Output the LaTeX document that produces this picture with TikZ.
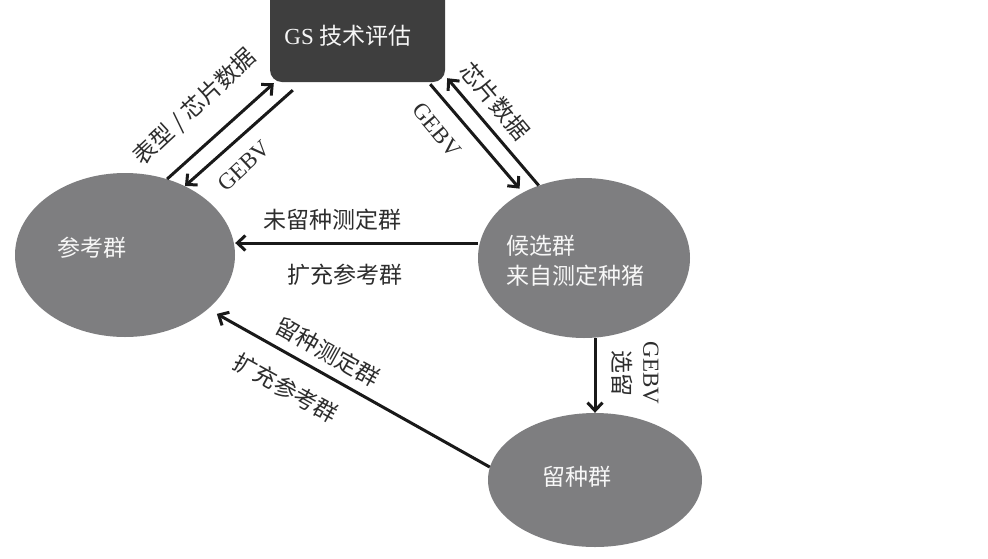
\documentclass[tikz,border=0pt]{standalone}
\usepackage{fontspec}
\setmainfont{Liberation Serif}
\newfontfamily\cjk{Noto Sans CJK SC}
\usetikzlibrary{arrows.meta,calc,shapes.geometric}
\newcommand\fsz{\fontsize{23}{30}\selectfont}
\definecolor{ellgray}{RGB}{126,126,128}
\definecolor{boxdark}{RGB}{62,62,62}
\definecolor{txtdark}{RGB}{45,45,45}
\begin{document}
\begin{tikzpicture}[x=1pt,y=-1pt,
  ellnode/.style={ellipse, fill=ellgray, draw=none, inner sep=0pt},
  gsbox/.style={rectangle, rounded corners=12pt, fill=boxdark, draw=none, minimum width=175pt, minimum height=104pt, inner sep=0pt},
  wtxt/.style={text=white!94!gray, font=\fsz\cjk, inner sep=0pt},
  lbl/.style={text=txtdark, font=\fsz\cjk, inner sep=0pt},
  arr/.style={line width=3pt, draw=black!90, -{Straight Barb[length=8pt,width=15pt]}}
]
\clip (0,0) rectangle (988,558);
\fill[white] (0,0) rectangle (988,558);

% main shapes
\node[gsbox] (gs) at (357.5,30) {};
\node[ellnode, minimum width=220pt, minimum height=164pt] (ref) at (125,255) {};
\node[ellnode, minimum width=212pt, minimum height=160pt] (cand) at (584,258) {};
\node[ellnode, minimum width=214pt, minimum height=134pt] (keep) at (595,480) {};

% texts inside shapes
\node[wtxt, font=\fsz] (gslbl) at (348,36) {GS {\cjk 技术评估}};
\node[wtxt] (reflbl) at (92,248) {参考群};
\node[wtxt, align=left, anchor=west] (candlbl) at (506,261) {候选群\\来自测定种猪};
\node[wtxt] (keeplbl) at (577,477) {留种群};

% connectors
\draw[arr] (ref.61) -- ($(gs.south west)+(4,1)$);
\draw[arr] ($(gs.south west)+(23,8)$) -- (ref.49.5);
\draw[arr, shorten >=5pt] ($(gs.south east)+(-15,2)$) -- (cand.133);
\draw[arr] (cand.122) -- ($(gs.south east)+(2,-4)$);
\coordinate (htip) at ($(ref.east)+(0,-12)$);
\draw[arr] (cand.west |- htip) -- (htip);
\draw[arr, shorten >=10pt] (keep.173) -- (ref.-33);
\draw[arr] (keep.north |- cand.south) -- (keep.north);

% connector labels
\node[lbl, rotate=43] (l1) at (195,107) {表型 / 芯片数据};
\node[lbl, font=\fsz, rotate=43] (l2) at (244,166) {GEBV};
\node[lbl, font=\fsz, rotate=-50] (l3) at (437,130) {GEBV};
\node[lbl, rotate=-50] (l4) at (495,101) {芯片数据};
\node[lbl] (l5) at (332,220) {未留种测定群};
\node[lbl] (l6) at (345,275) {扩充参考群};
\node[lbl, rotate=-29] (l7) at (328,352) {留种测定群};
\node[lbl, rotate=-29] (l8) at (286,388) {扩充参考群};
\node[lbl, font=\fsz, rotate=-90, align=center] (l9) at (635,373) {GEBV\\{\cjk 选留}};
\end{tikzpicture}
\end{document}
